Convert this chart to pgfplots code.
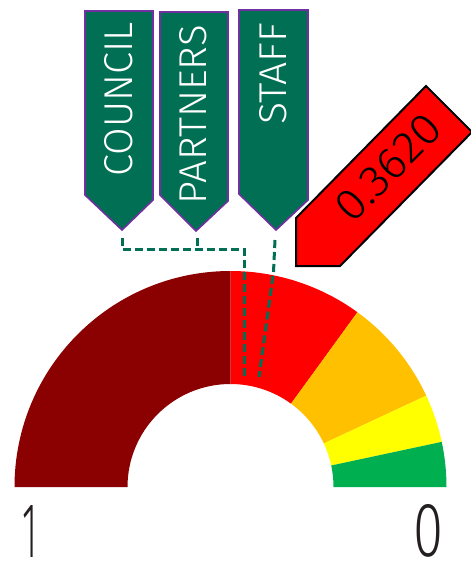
\documentclass[border=0pt]{standalone}
\usepackage{pgfplots}
\pgfplotsset{compat=1.18}
\usepackage{graphicx}
\usepackage{fontspec}
\setmainfont{Fira Sans}[UprightFont=* Light]
\definecolor{gDarkRed}{HTML}{8B0000}
\definecolor{gRed}{HTML}{FF0000}
\definecolor{gOrange}{HTML}{FFC000}
\definecolor{gYellow}{HTML}{FFFF00}
\definecolor{gGreen}{HTML}{00B050}
\definecolor{cGreen}{HTML}{006F53}
\definecolor{cPurple}{HTML}{7030A0}
\definecolor{txtGray}{HTML}{231F20}
% gauge band: value v maps to angle 180*v; centre (230.5,487), radii 216 and 103
\newcommand{\gsector}[3]{%
  \fill[#1] ([shift={(180*#2:216pt)}]axis cs:230.5,487)
    arc[start angle=180*#2,end angle=180*#3,radius=216pt]
    -- ([shift={(180*#3:103pt)}]axis cs:230.5,487)
    arc[start angle=180*#3,end angle=180*#2,radius=103pt] -- cycle;}
\begin{document}
\begin{tikzpicture}
\begin{axis}[width=471pt,height=565pt,scale only axis,
  xmin=0,xmax=471,ymin=0,ymax=565,y dir=reverse,hide axis,clip=false]
% gauge bands (value ranges)
\gsector{gDarkRed}{0.5}{1}
\gsector{gRed}{0.3}{0.5}
\gsector{gOrange}{0.139}{0.3}
\gsector{gYellow}{0.067}{0.139}
\gsector{gGreen}{0}{0.067}
% dashed leaders
\addplot[cGreen,line width=3pt,dash pattern=on 8pt off 4pt] coordinates {(122,238) (122,249) (244.5,249) (244.5,377)};
\addplot[cGreen,line width=3pt,dash pattern=on 8pt off 4pt] coordinates {(197,238) (197,249)};
\addplot[cGreen,line width=3pt,dash pattern=on 8pt off 4pt] coordinates {(275,240) (273.5,272) (259,377)};
% callouts
\addplot[fill=cGreen,draw=cPurple,line width=1.6pt] coordinates {(85,11) (153,11) (153,200) (122,230) (85,195)} -- cycle;
\addplot[fill=cGreen,draw=cPurple,line width=1.6pt] coordinates {(160,12) (228,12) (228,201) (196,231) (160,195)} -- cycle;
\addplot[fill=cGreen,draw=cPurple,line width=1.6pt] coordinates {(239,10) (308,10) (308,200) (276,230) (239,194)} -- cycle;
\addplot[fill=gRed,draw=black,line width=2pt] coordinates {(296,266) (296,218) (426,86) (472,132) (340,266)} -- cycle;
% texts
\node[rotate=90,inner sep=0,text=white] at (axis cs:119.2,99.7) {\resizebox{154pt}{28pt}{COUNCIL}};
\node[rotate=90,inner sep=0,text=white] at (axis cs:193.7,114.5) {\resizebox{179pt}{27pt}{PARTNERS}};
\node[rotate=90,inner sep=0,text=white] at (axis cs:273.3,73.8) {\resizebox{102pt}{27pt}{STAFF}};
\node[rotate=45,inner sep=0,text=black] at (axis cs:388,167.5) {\resizebox{131pt}{30pt}{0.3620}};
\node[inner sep=0,text=txtGray] at (axis cs:30.5,531) {\resizebox{15pt}{52pt}{1}};
\node[inner sep=0,text=txtGray] at (axis cs:428,531) {\resizebox{30pt}{52pt}{0}};
\end{axis}
\pgfresetboundingbox
\useasboundingbox (0,0) rectangle (471pt,565pt);
\end{tikzpicture}
\end{document}
